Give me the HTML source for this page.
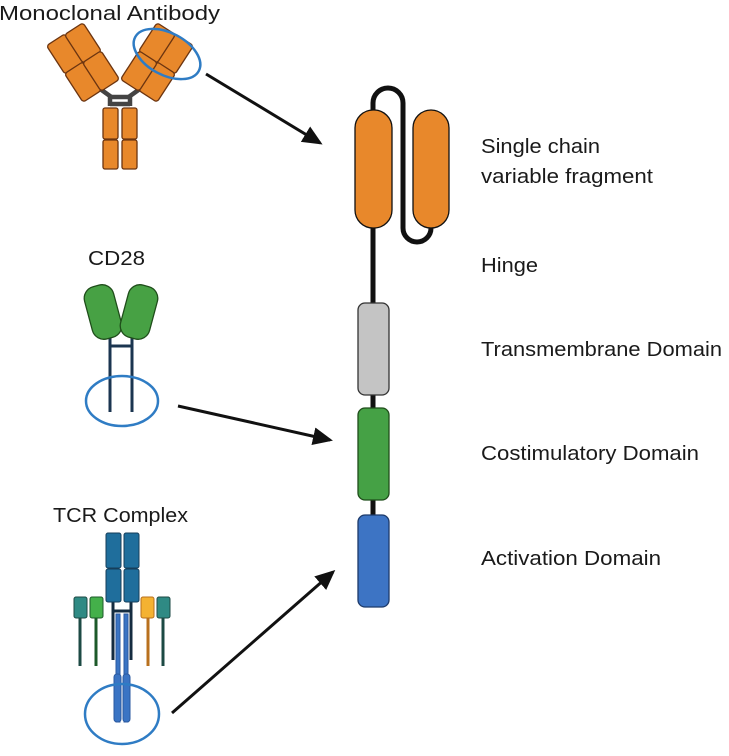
<!DOCTYPE html>
<html><head><meta charset="utf-8"><style>
html,body{margin:0;padding:0;background:#fff;}
svg{display:block;}
text{font-family:"Liberation Sans",sans-serif;fill:#1a1a1a;}
</style></head><body>
<svg width="729" height="756" viewBox="0 0 729 756" xmlns="http://www.w3.org/2000/svg">
<defs>
<marker id="ah" markerWidth="20" markerHeight="18" refX="17" refY="9" orient="auto" markerUnits="userSpaceOnUse" viewBox="0 0 20 18">
<path d="M0,0 L20,9 L0,18 z" fill="#111"/>
</marker>
</defs>
<!-- Monoclonal antibody -->
<text x="-1" y="20" font-size="20" textLength="221" lengthAdjust="spacingAndGlyphs">Monoclonal Antibody</text>
<g stroke="#444" stroke-width="4.5" fill="none">
<path d="M96,86 L110,96 L110,106"/>
<path d="M144,86 L130,96 L130,106"/>
<line x1="110" y1="97" x2="130" y2="97"/>
<line x1="110" y1="104" x2="130" y2="104"/>
</g>
<g fill="#e8882b" stroke="#6b3410" stroke-width="1.3">
<g transform="translate(65,54) rotate(-33)"><rect x="-11" y="-17" width="22" height="34" rx="3"/></g>
<g transform="translate(83,82) rotate(-33)"><rect x="-11" y="-17" width="22" height="34" rx="3"/></g>
<g transform="translate(83,43) rotate(-33)"><rect x="-11" y="-17" width="22" height="34" rx="3"/></g>
<g transform="translate(101,71) rotate(-33)"><rect x="-11" y="-17" width="22" height="34" rx="3"/></g>
<g transform="translate(175,54) rotate(33)"><rect x="-11" y="-17" width="22" height="34" rx="3"/></g>
<g transform="translate(157,82) rotate(33)"><rect x="-11" y="-17" width="22" height="34" rx="3"/></g>
<g transform="translate(157,43) rotate(33)"><rect x="-11" y="-17" width="22" height="34" rx="3"/></g>
<g transform="translate(139,71) rotate(33)"><rect x="-11" y="-17" width="22" height="34" rx="3"/></g>
<rect x="103" y="108" width="15" height="31" rx="2"/>
<rect x="103" y="140" width="15" height="29" rx="2"/>
<rect x="122" y="108" width="15" height="31" rx="2"/>
<rect x="122" y="140" width="15" height="29" rx="2"/>
</g>
<ellipse cx="167" cy="54" rx="36" ry="21" transform="rotate(28 167 54)" fill="none" stroke="#2f7cc4" stroke-width="2.5"/>
<line x1="206" y1="74" x2="320" y2="143" stroke="#111" stroke-width="3" marker-end="url(#ah)"/>

<!-- CD28 -->
<text x="88" y="265" font-size="20" textLength="57" lengthAdjust="spacingAndGlyphs">CD28</text>
<g stroke="#1b3550" stroke-width="3">
<line x1="110" y1="330" x2="110" y2="412"/>
<line x1="132" y1="330" x2="132" y2="412"/>
<line x1="110" y1="346" x2="132" y2="346"/>
</g>
<g fill="#47a144" stroke="#1f4d1a" stroke-width="1.3">
<g transform="translate(103,312) rotate(-15)"><rect x="-15" y="-27" width="30" height="54" rx="12"/></g>
<g transform="translate(139,312) rotate(15)"><rect x="-15" y="-27" width="30" height="54" rx="12"/></g>
</g>
<ellipse cx="122" cy="401" rx="36" ry="25" fill="none" stroke="#2f7cc4" stroke-width="2.5"/>
<line x1="178" y1="406" x2="330" y2="440" stroke="#111" stroke-width="3" marker-end="url(#ah)"/>

<!-- TCR -->
<text x="53" y="522" font-size="20" textLength="135" lengthAdjust="spacingAndGlyphs">TCR Complex</text>
<g stroke-width="3">
<line x1="80" y1="616" x2="80" y2="666" stroke="#1d4a44"/>
<line x1="96" y1="616" x2="96" y2="666" stroke="#1d5a2a"/>
<line x1="148" y1="616" x2="148" y2="666" stroke="#b8701e"/>
<line x1="163" y1="616" x2="163" y2="666" stroke="#1d4a44"/>
<line x1="113" y1="600" x2="113" y2="660" stroke="#152c40"/>
<line x1="131" y1="600" x2="131" y2="660" stroke="#152c40"/>
<line x1="113" y1="611" x2="131" y2="611" stroke="#152c40"/>
</g>
<g fill="#3a74c4" stroke="#2b5aa0" stroke-width="1">
<rect x="116" y="614" width="4" height="108"/>
<rect x="124" y="614" width="4" height="108"/>
<rect x="114" y="674" width="7" height="48" rx="3"/>
<rect x="123" y="674" width="7" height="48" rx="3"/>
</g>
<g fill="#2f8a84" stroke="#1d4a44" stroke-width="1">
<rect x="74" y="597" width="13" height="21" rx="2"/>
<rect x="157" y="597" width="13" height="21" rx="2"/>
</g>
<rect x="90" y="597" width="13" height="21" rx="2" fill="#44b04a" stroke="#1d5a2a"/>
<rect x="141" y="597" width="13" height="21" rx="2" fill="#f4b232" stroke="#b8701e"/>
<g fill="#1f6e9c" stroke="#163e5a" stroke-width="1">
<rect x="106" y="533" width="15" height="35" rx="2"/>
<rect x="106" y="569" width="15" height="33" rx="2"/>
<rect x="124" y="533" width="15" height="35" rx="2"/>
<rect x="124" y="569" width="15" height="33" rx="2"/>
</g>
<ellipse cx="122" cy="714" rx="37" ry="30" fill="none" stroke="#2f7cc4" stroke-width="2.5"/>
<line x1="172" y1="713" x2="333" y2="572" stroke="#111" stroke-width="3" marker-end="url(#ah)"/>

<!-- CAR construct -->
<path d="M373,520 L373,103 A15,15 0 0 1 403,103 L403,228 A14,14 0 0 0 431,228 L431,200" fill="none" stroke="#111" stroke-width="5"/>
<rect x="355" y="110" width="37" height="118" rx="18" fill="#e8882b" stroke="#111" stroke-width="1.3"/>
<rect x="413" y="110" width="36" height="118" rx="18" fill="#e8882b" stroke="#111" stroke-width="1.3"/>
<rect x="358" y="303" width="31" height="92" rx="7" fill="#c4c4c4" stroke="#333" stroke-width="1.3"/>
<rect x="358" y="408" width="31" height="92" rx="7" fill="#45a145" stroke="#1f4d1a" stroke-width="1.3"/>
<rect x="358" y="515" width="31" height="92" rx="7" fill="#3d74c4" stroke="#1d3a6a" stroke-width="1.3"/>

<g font-size="20.5">
<text x="481" y="153" textLength="119" lengthAdjust="spacingAndGlyphs">Single chain</text>
<text x="481" y="183" textLength="172" lengthAdjust="spacingAndGlyphs">variable fragment</text>
<text x="481" y="272" textLength="57" lengthAdjust="spacingAndGlyphs">Hinge</text>
<text x="481" y="356" textLength="241" lengthAdjust="spacingAndGlyphs">Transmembrane Domain</text>
<text x="481" y="460" textLength="218" lengthAdjust="spacingAndGlyphs">Costimulatory Domain</text>
<text x="481" y="565" textLength="180" lengthAdjust="spacingAndGlyphs">Activation Domain</text>
</g>
</svg>
</body></html>
